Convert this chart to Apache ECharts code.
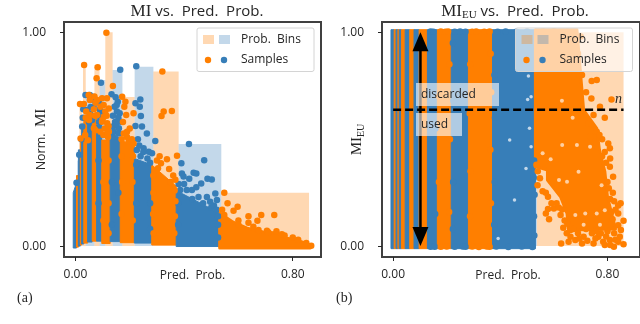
<!DOCTYPE html>
<html>
<head>
<meta charset="utf-8">
<script src="https://cdn.jsdelivr.net/npm/echarts@6/dist/echarts.min.js"></script>
<style>
html, body { margin: 0; background: #fff; }
#chart { width: 640px; height: 324px; }
</style>
</head>
<body>
<div id="chart"></div>
<script>
var ORANGE = '#ff7f00'
var BLUE = '#377eb8'
var FONT = '"Open Sans", sans-serif'
var SERIF = '"Liberation Serif", serif'

var xTicks = [0, 0.8]
var yTicks = [0, 1]

// probability bins: x0, x1, norm MI height (orange / blue alternate)
var binEdges = [0, 0.007, 0.015, 0.025, 0.028, 0.038, 0.07, 0.089, 0.11, 0.137, 0.173, 0.218, 0.287, 0.38, 0.537, 0.86]
var binTops = [0.3, 0.4, 0.669, 0.6, 0.847, 0.716, 0.847, 0.777, 1, 0.824, 0.697, 0.839, 0.816, 0.477, 0.249]

// dense sample columns on the left panel: x0, x1, low, top at x0, top at x1
var miColumns = [
  [-0.008, 0.004, -0.009, 0.25, 0.295],
  [0.004, 0.011, -0.005, 0.33, 0.33],
  [0.011, 0.018, 0, 0.45, 0.45],
  [0.018, 0.023, 0.005, 0.5, 0.5],
  [0.023, 0.031, 0.01, 0.566, 0.566],
  [0.031, 0.045, 0.014, 0.59, 0.59],
  [0.045, 0.062, 0.019, 0.613, 0.613],
  [0.062, 0.078, 0.023, 0.6, 0.6],
  [0.078, 0.097, 0.023, 0.566, 0.566],
  [0.097, 0.128, 0.012, 0.496, 0.496],
  [0.128, 0.165, 0.021, 0.543, 0.5],
  [0.165, 0.217, 0.016, 0.496, 0.47],
  [0.217, 0.281, 0.014, 0.41, 0.38],
  [0.281, 0.371, 0.005, 0.38, 0.28],
  [0.371, 0.531, -0.002, 0.26, 0.154]
]
var miTail = [[0.531, 0.154], [0.581, 0.112], [0.632, 0.084], [0.691, 0.066], [0.742, 0.061], [0.779, 0.037], [0.816, 0.028], [0.864, 0.005], [0.864, -0.009], [0.531, -0.009]]

var miOrange = [
  [0.114, 0.998], [0.032, 0.847], [0.082, 0.836], [0.078, 0.785], [0.138, 0.749], [0.32, 0.816], [0.355, 0.632], [0.325, 0.629],
  [0.317, 0.608], [0.017, 0.665], [0.031, 0.665], [0.049, 0.707], [0.053, 0.683], [0.08, 0.683], [0.098, 0.691], [0.116, 0.691],
  [0.172, 0.699], [0.184, 0.675], [0.18, 0.652], [0.187, 0.613], [0.214, 0.621], [0.19, 0.535], [0.178, 0.527], [0.196, 0.488],
  [0.214, 0.48], [0.092, 0.652], [0.123, 0.644], [0.08, 0.613], [0.105, 0.605], [0.117, 0.574], [0.068, 0.551], [0.098, 0.582],
  [0.05, 0.59], [0.019, 0.503], [0.046, 0.495], [0.074, 0.542], [0.123, 0.535], [0.092, 0.535], [0.053, 0.613], [0.374, 0.423],
  [0.337, 0.406], [0.315, 0.387], [0.304, 0.364], [0.548, 0.25], [0.56, 0.2], [0.597, 0.184], [0.582, 0.165], [0.548, 0.145],
  [0.637, 0.14], [0.684, 0.145], [0.732, 0.145], [0.67, 0.119], [0.637, 0.109], [0.705, 0.072], [0.674, 0.075], [0.6, 0.12],
  [0.74, 0.07], [0.77, 0.05], [0.8, 0.04], [0.85, 0.015], [0.868, 0.002],
  [0.038, 0.6], [0.04, 0.63], [0.036, 0.52], [0.072, 0.61], [0.068, 0.64], [0.074, 0.67], [0.07, 0.7], [0.103, 0.52], [0.108, 0.55],
  [0.1, 0.59], [0.11, 0.63], [0.104, 0.66], [0.12, 0.51], [0.118, 0.53], [0.122, 0.56], [0.115, 0.61], [0.19, 0.51], [0.2, 0.55],
  [0.175, 0.58], [0.17, 0.5], [0.208, 0.5], [0.3, 0.4], [0.31, 0.42], [0.345, 0.36], [0.36, 0.33], [0.35, 0.3], [0.368, 0.31],
  [0.365, 0.26], [0.368, 0.21], [0.287, 0.33], [0.287, 0.25], [0.286, 0.15], [0.288, 0.06], [0.366, 0.14], [0.364, 0.06],
  [0.17, 0.42], [0.172, 0.3], [0.17, 0.15], [0.212, 0.42], [0.21, 0.3], [0.211, 0.12], [0.54, 0.17], [0.6, 0.1], [0.55, 0.125],
  [0.655, 0.09], [0.71, 0.065], [0.76, 0.055], [0.82, 0.03], [0.103, 0.3], [0.103, 0.12], [0.122, 0.4], [0.122, 0.2], [0.122, 0.06]
]
var miBlue = [
  [0.165, 0.825], [0.224, 0.841], [0.094, 0.764], [0.037, 0.707], [0.053, 0.707], [0.065, 0.683], [0.133, 0.71], [0.148, 0.696],
  [0.156, 0.675], [0.144, 0.652], [0.153, 0.629], [0.163, 0.621], [0.166, 0.582], [0.16, 0.551], [0.141, 0.535], [0.16, 0.527],
  [0.221, 0.668], [0.239, 0.686], [0.237, 0.652], [0.241, 0.608], [0.221, 0.562], [0.245, 0.559], [0.263, 0.527], [0.294, 0.491],
  [0.251, 0.457], [0.226, 0.449], [0.282, 0.434], [0.27, 0.441], [0.418, 0.477], [0.474, 0.402], [0.39, 0.387], [0.392, 0.34],
  [0.398, 0.325], [0.435, 0.343], [0.445, 0.34], [0.419, 0.315], [0.486, 0.315], [0.502, 0.312], [0.463, 0.293], [0.445, 0.275],
  [0.429, 0.262], [0.386, 0.262], [0.41, 0.262], [0.515, 0.246], [0.521, 0.215], [0.453, 0.23], [0.484, 0.23], [0.496, 0.207],
  [0.025, 0.559], [0.022, 0.5], [0.004, 0.296], [0.014, 0.427], [0.061, 0.59], [0.043, 0.636], [0.067, 0.652], [0.092, 0.63],
  [0.027, 0.6], [0.029, 0.64], [0.053, 0.62], [0.056, 0.65], [0.05, 0.58], [0.087, 0.58], [0.085, 0.61], [0.09, 0.64], [0.087, 0.67],
  [0.14, 0.56], [0.146, 0.58], [0.138, 0.61], [0.15, 0.57], [0.158, 0.6], [0.152, 0.66], [0.24, 0.42], [0.25, 0.44], [0.235, 0.47],
  [0.265, 0.41], [0.275, 0.39], [0.23, 0.5], [0.38, 0.29], [0.4, 0.29], [0.43, 0.22], [0.47, 0.2], [0.5, 0.18], [0.51, 0.19], [0.52, 0.17],
  [0.224, 0.38], [0.224, 0.2], [0.275, 0.2], [0.275, 0.08], [0.158, 0.25], [0.134, 0.3], [0.134, 0.1], [0.085, 0.4], [0.085, 0.2],
  [0.378, 0.2], [0.525, 0.1], [0.525, 0.04], [0.525, 0.14], [0.378, 0.1]
]

// right panel: every bin is full height and the columns run top to bottom
var euColumns = [
  [-0.008, 0.004], [0.004, 0.011], [0.011, 0.018], [0.018, 0.023], [0.023, 0.031], [0.031, 0.045], [0.045, 0.062], [0.062, 0.078],
  [0.078, 0.097], [0.097, 0.128], [0.128, 0.165], [0.165, 0.217], [0.217, 0.281], [0.281, 0.371], [0.371, 0.531]
]
var euCore = [
  [0.531, 1.012], [0.686, 1.012], [0.699, 0.816], [0.711, 0.636], [0.76, 0.55], [0.77, 0.45], [0.79, 0.35], [0.8, 0.23],
  [0.83, 0.08], [0.655, 0.075], [0.649, 0.153], [0.625, 0.231], [0.576, 0.309], [0.576, 0.356], [0.539, 0.37], [0.531, 0.37]
]
var euOrange = [
  [0.76, 0.777], [0.741, 0.772], [0.674, 0.793], [0.705, 0.8], [0.815, 0.686], [0.772, 0.652], [0.748, 0.613], [0.76, 0.535],
  [0.803, 0.48], [0.809, 0.457], [0.76, 0.465], [0.729, 0.574], [0.735, 0.512], [0.809, 0.371], [0.821, 0.324], [0.849, 0.2],
  [0.84, 0.153], [0.86, 0.118], [0.819, 0.125], [0.84, 0.098], [0.846, 0.044], [0.86, 0.009], [0.824, -0.003], [0.635, 0.086],
  [0.627, 0.012], [0.582, 0.126], [0.57, 0.153], [0.578, 0.173], [0.6, 0.176], [0.618, 0.18], [0.631, 0.171], [0.625, 0.145],
  [0.591, 0.2], [0.578, 0.231], [0.57, 0.25], [0.558, 0.257], [0.539, 0.285], [0.548, 0.317], [0.662, 0.075], [0.674, 0.08],
  [0.662, 0.044], [0.68, 0.028], [0.711, 0.044], [0.705, 0.012], [0.748, 0.012], [0.784, 0.02], [0.809, 0.028], [0.766, 0.044],
  [0.742, 0.06], [0.69, 0.06], [0.8, 0.07], [0.775, 0.06], [0.825, 0.06], [0.535, 0.38], [0.54, 0.35], [0.82, 0.25], [0.83, 0.17],
  [0.72, 0.72], [0.79, 0.6], [0.78, 0.5], [0.81, 0.41], [0.69, 0.9], [0.7, 0.98], [0.74, 0.69], [0.8, 0.3], [0.81, 0.22], [0.815, 0.16],
  [0.78, 0.42], [0.795, 0.39], [0.77, 0.52], [0.79, 0.44], [0.805, 0.27], [0.825, 0.21], [0.84, 0.19], [0.81, 0.1], [0.85, 0.075],
  [0.83, 0.03], [0.795, 0.045], [0.755, 0.035], [0.725, 0.025], [0.695, 0.035], [0.65, 0.105], [0.64, 0.12], [0.61, 0.2], [0.655, 0.02],
  [0.79, 0.005], [0.81, 0.005], [0.84, 0.02], [0.72, 0.08], [0.758, 0.07], [0.648, 0.06],
  // bumps along the orange columns
  [0.295, 1.002], [0.31, 1.004], [0.34, 1.002], [0.36, 1.004], [0.295, -0.002], [0.32, -0.004], [0.35, -0.002], [0.36, -0.003],
  [0.288, 0.85], [0.286, 0.62], [0.289, 0.35], [0.287, 0.14], [0.364, 0.9], [0.366, 0.72], [0.363, 0.45], [0.365, 0.2],
  [0.178, 1.003], [0.195, 1.002], [0.205, 1.004], [0.178, -0.003], [0.2, -0.002], [0.172, 0.7], [0.171, 0.3], [0.21, 0.85], [0.212, 0.5], [0.209, 0.16],
  [0.56, 1.003], [0.6, 1.005], [0.65, 1.002], [0.539, 0.6], [0.538, 0.8]
]
var euBlue = [
  [0.39, 1.002], [0.42, 1.004], [0.46, 1.002], [0.5, 1.003], [0.385, -0.002], [0.43, -0.004], [0.48, -0.002], [0.52, -0.004],
  [0.23, 1.002], [0.25, 1.004], [0.27, 1.002], [0.23, -0.003], [0.26, -0.002], [0.27, -0.003], [0.14, 1.003], [0.15, 1.002],
  [0.14, -0.003], [0.155, -0.003], [0.378, 0.8], [0.38, 0.6], [0.379, 0.3], [0.377, 0.1], [0.223, 0.95], [0.225, 0.68], [0.224, 0.3], [0.223, 0.08],
  [0.158, 0.55], [0.157, 0.15], [0.525, 0.32], [0.528, 0.24], [0.526, 0.14], [0.527, 0.05], [0.526, 0.4]
]
// spots where the samples leave the bin colour showing through
var euOrangeGaps = [
  [0.686, 0.473], [0.631, 0.473], [0.735, 0.465], [0.619, 0.309], [0.649, 0.301], [0.692, 0.348], [0.778, 0.285], [0.68, 0.145],
  [0.717, 0.153], [0.76, 0.153], [0.79, 0.168], [0.588, 0.406], [0.558, 0.434], [0.63, 0.68], [0.67, 0.6], [0.711, 0.1], [0.772, 0.1]
]
var euBlueGaps = [
  [0.505, 0.796], [0.515, 0.699], [0.502, 0.686], [0.509, 0.551], [0.515, 0.465], [0.496, 0.363], [0.453, 0.215], [0.392, 0.036], [0.435, 0.496]
]

var cutoff = 0.638
var cutoffEnd = 0.86
var arrowX = 0.102

function binRects (tops) {
  return tops.map(function (top, i) {
    return [binEdges[i], binEdges[i + 1], top]
  })
}

function binSeries (idx, tops) {
  return {
    type: 'custom',
    xAxisIndex: idx,
    yAxisIndex: idx,
    silent: true,
    z: 1,
    data: binRects(tops),
    renderItem: function (params, api) {
      var a = api.coord([api.value(0), api.value(2)])
      var b = api.coord([api.value(1), 0])
      return {
        type: 'rect',
        shape: { x: a[0], y: a[1], width: b[0] - a[0], height: b[1] - a[1] },
        style: { fill: params.dataIndex % 2 ? BLUE : ORANGE, opacity: 0.3 }
      }
    }
  }
}

function columnSeries (idx, rows) {
  return {
    type: 'custom',
    xAxisIndex: idx,
    yAxisIndex: idx,
    silent: true,
    z: 2,
    data: rows,
    renderItem: function (params, api) {
      var pts = [
        api.coord([api.value(0), api.value(2)]),
        api.coord([api.value(0), api.value(3)]),
        api.coord([api.value(1), api.value(4)]),
        api.coord([api.value(1), api.value(2)])
      ]
      var color = params.dataIndex % 2 ? ORANGE : BLUE
      return {
        type: 'polygon',
        shape: { points: pts },
        style: { fill: color, stroke: color, lineWidth: 1, lineJoin: 'round' }
      }
    }
  }
}

function outlineSeries (idx, pts) {
  return {
    type: 'custom',
    xAxisIndex: idx,
    yAxisIndex: idx,
    silent: true,
    z: 2,
    data: [0],
    renderItem: function (params, api) {
      return {
        type: 'polygon',
        shape: { points: pts.map(function (p) { return api.coord(p) }) },
        style: { fill: ORANGE, stroke: ORANGE, lineWidth: 3, lineJoin: 'round' }
      }
    }
  }
}

function dots (idx, data, color, size, z) {
  return {
    type: 'scatter',
    xAxisIndex: idx,
    yAxisIndex: idx,
    silent: true,
    clip: false,
    symbolSize: size || 6.5,
    z: z || 3,
    data: data,
    itemStyle: { color: color, opacity: 1 }
  }
}

function xAxis (idx, min, max, pad) {
  return {
    type: 'value',
    gridIndex: idx,
    min: min,
    max: max,
    name: 'Pred.  Prob.',
    nameLocation: 'middle',
    nameGap: 13,
    nameMoveOverlap: false,
    nameTextStyle: { fontFamily: FONT, fontSize: 12, color: '#262626', padding: [0, pad, 0, 0], verticalAlign: 'top' },
    axisLine: { show: false, onZero: false },
    splitLine: { show: false },
    axisTick: { show: true, length: 4, customValues: xTicks, lineStyle: { color: '#262626', width: 1 } },
    axisLabel: {
      show: true, margin: 12, customValues: xTicks, fontFamily: FONT, fontSize: 12, color: '#262626',
      formatter: function (v) { return v.toFixed(2) }
    }
  }
}

function yAxis (idx, name, gap) {
  return {
    type: 'value',
    gridIndex: idx,
    min: -0.051,
    max: 1.048,
    name: name,
    nameLocation: 'middle',
    nameGap: gap,
    nameRotate: 90,
    nameMoveOverlap: false,
    nameTextStyle: {
      fontFamily: FONT, fontSize: 12.5, color: '#262626',
      rich: {
        mi: { fontFamily: SERIF, fontSize: 15, color: '#262626' },
        sub: { fontFamily: SERIF, fontSize: 10, color: '#262626', padding: [7, 0, 0, 0] }
      }
    },
    axisLine: { show: false, onZero: false },
    splitLine: { show: false },
    axisTick: { show: true, length: 4, customValues: yTicks, lineStyle: { color: '#262626', width: 1 } },
    axisLabel: {
      show: true, margin: 18, customValues: yTicks, fontFamily: FONT, fontSize: 12, color: '#262626',
      formatter: function (v) { return v.toFixed(2) }
    }
  }
}

function label (x, y, text, font, size, extra) {
  return {
    type: 'text',
    x: x,
    y: y,
    z: 30,
    style: Object.assign({ text: text, fontFamily: font, fontSize: size, fill: '#262626', verticalAlign: 'middle' }, extra || {})
  }
}

function legend (x0, alpha) {
  var box = {
    type: 'rect',
    z: 20,
    shape: { x: x0, y: 28, width: 117, height: 43.5, r: 2 },
    style: { fill: 'rgba(255,255,255,' + alpha + ')', stroke: '#d4d4d4', lineWidth: 1 }
  }
  function patch (x, c) {
    return { type: 'rect', z: 21, shape: { x: x, y: 35, width: 11, height: 9 }, style: { fill: c, opacity: 0.3 } }
  }
  function dot (x, c) {
    return { type: 'circle', z: 21, shape: { cx: x, cy: 60, r: 3.2 }, style: { fill: c } }
  }
  return [
    box,
    patch(x0 + 6, ORANGE), patch(x0 + 22, BLUE),
    dot(x0 + 11, ORANGE), dot(x0 + 27, BLUE),
    label(x0 + 44, 40, 'Prob.  Bins', FONT, 12),
    label(x0 + 44, 60, 'Samples', FONT, 12)
  ]
}

var arrowSeries = {
  type: 'custom',
  xAxisIndex: 1,
  yAxisIndex: 1,
  silent: true,
  z: 5,
  data: [[arrowX, 0, 1]],
  renderItem: function (params, api) {
    var lo = api.coord([api.value(0), api.value(1)])
    var hi = api.coord([api.value(0), api.value(2)])
    return {
      type: 'group',
      children: [
        { type: 'line', shape: { x1: lo[0], y1: lo[1] - 10, x2: hi[0], y2: hi[1] + 10 }, style: { stroke: '#000', lineWidth: 2.5 } },
        { type: 'polygon', shape: { points: [[hi[0], hi[1]], [hi[0] - 8, hi[1] + 19], [hi[0] + 8, hi[1] + 19]] }, style: { fill: '#000' } },
        { type: 'polygon', shape: { points: [[lo[0], lo[1]], [lo[0] - 8, lo[1] - 19], [lo[0] + 8, lo[1] - 19]] }, style: { fill: '#000' } }
      ]
    }
  }
}

var cutoffSeries = {
  type: 'line',
  xAxisIndex: 1,
  yAxisIndex: 1,
  silent: true,
  z: 6,
  symbol: 'none',
  data: [[0, cutoff], [cutoffEnd, cutoff]],
  lineStyle: { color: '#000', width: 2.5, type: [8, 4] }
}

var chart = echarts.init(document.getElementById('chart'), null, { renderer: 'canvas' })
chart.setOption({
  animation: false,
  backgroundColor: '#fff',
  title: [
    {
      left: 192, top: -2, textAlign: 'center',
      text: '{mi|MI} vs.  Pred.  Prob.',
      textStyle: { fontFamily: FONT, fontSize: 15, fontWeight: 'normal', color: '#262626', rich: { mi: { fontFamily: SERIF, fontSize: 17, color: '#262626' } } }
    },
    {
      left: 510, top: -2, textAlign: 'center',
      text: '{mi|MI}{sub|EU} vs.  Pred.  Prob.',
      textStyle: {
        fontFamily: FONT, fontSize: 15, fontWeight: 'normal', color: '#262626',
        rich: {
          mi: { fontFamily: SERIF, fontSize: 17, color: '#262626' },
          sub: { fontFamily: SERIF, fontSize: 11, color: '#262626', padding: [7, 0, 0, 0] }
        }
      }
    }
  ],
  grid: [
    { left: 64, top: 22, width: 257, height: 235, show: true, borderColor: '#404040', borderWidth: 2, backgroundColor: 'transparent' },
    { left: 382, top: 22, width: 262, height: 235, show: true, borderColor: '#404040', borderWidth: 2, backgroundColor: 'transparent' }
  ],
  xAxis: [xAxis(0, -0.042, 0.904, 0), xAxis(1, -0.0415, 0.9214, 6)],
  yAxis: [yAxis(0, 'Norm.  {mi|MI}', 15), yAxis(1, '{mi|MI}{sub|EU}', 16)],
  series: [
    binSeries(0, binTops),
    columnSeries(0, miColumns),
    outlineSeries(0, miTail),
    dots(0, miBlue, BLUE),
    dots(0, miOrange, ORANGE, 6.5, 4),
    binSeries(1, binTops.map(function () { return 1 })),
    columnSeries(1, euColumns.map(function (c) { return [c[0], c[1], -0.012, 1.012, 1.012] })),
    outlineSeries(1, euCore),
    dots(1, euBlue, BLUE),
    dots(1, euOrange, ORANGE),
    dots(1, euOrangeGaps, '#ffd0a3', 4, 4),
    dots(1, euBlueGaps, '#c3d8ea', 3.5, 4),
    arrowSeries,
    cutoffSeries
  ],
  graphic: {
    elements: [].concat(
      legend(197, 0.8),
      legend(515.5, 0.65),
      [
        { type: 'rect', z: 10, shape: { x: 416, y: 83, width: 83, height: 23 }, style: { fill: 'rgba(255,255,255,0.6)' } },
        { type: 'rect', z: 10, shape: { x: 416, y: 113, width: 46, height: 23 }, style: { fill: 'rgba(255,255,255,0.6)' } },
        label(421, 94.5, 'discarded', FONT, 12),
        label(421, 124.5, 'used', FONT, 12),
        label(615, 99, 'n', SERIF, 14, { fontStyle: 'italic' }),
        label(17, 298, '(a)', SERIF, 14),
        label(336, 298, '(b)', SERIF, 14)
      ]
    )
  }
})
</script>
</body>
</html>
